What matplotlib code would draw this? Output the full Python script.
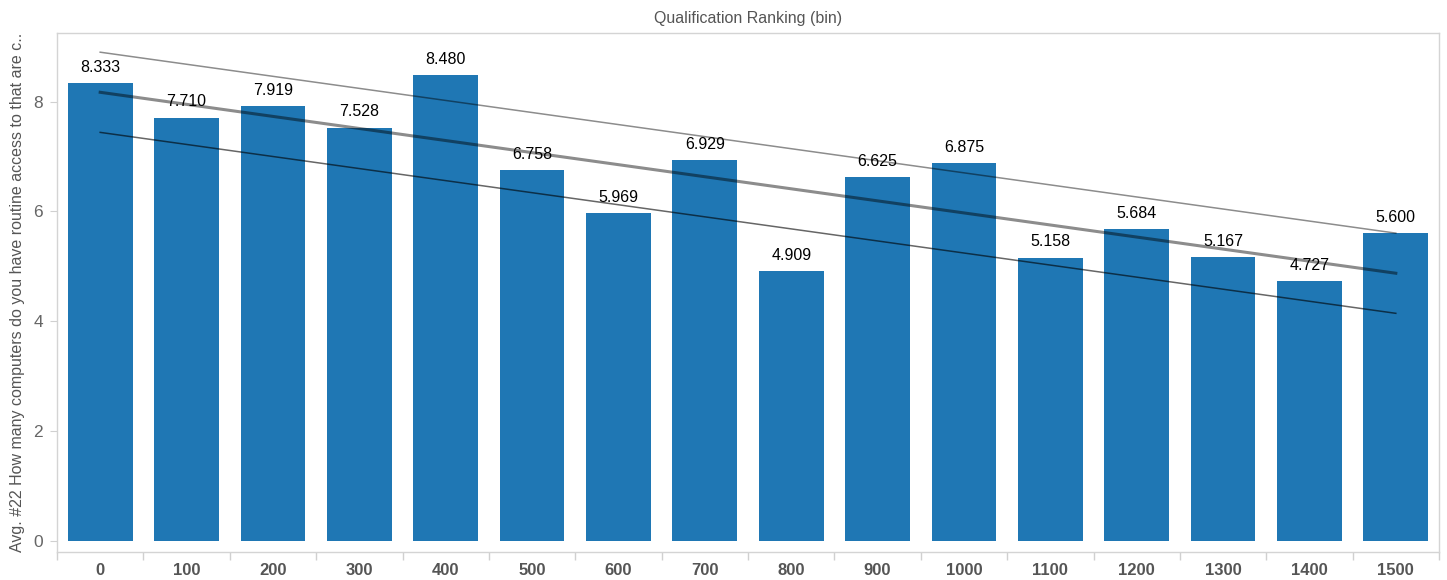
import numpy as np
import matplotlib
matplotlib.use('Agg')
import matplotlib.pyplot as plt

plt.rcParams['font.family'] = ['Liberation Sans', 'DejaVu Sans']

# Data
bins = [0, 100, 200, 300, 400, 500, 600, 700, 800, 900, 1000, 1100, 1200, 1300, 1400, 1500]
avg_computers = [8.333, 7.710, 7.919, 7.528, 8.480, 6.758, 5.969, 6.929,
                 4.909, 6.625, 6.875, 5.158, 5.684, 5.167, 4.727, 5.600]
band_width = 0.73

fig = plt.figure(figsize=(14.47, 5.8), dpi=100)
ax = fig.add_axes([57 / 1447, 28 / 580, (1439 - 57) / 1447, (552 - 33) / 580])

x = np.arange(len(bins))
ax.bar(x, avg_computers, width=0.75, color='#1f77b4', zorder=2)

for xi, v in zip(x, avg_computers):
    ax.annotate(f'{v:.3f}', (xi, v), xytext=(0, 6), textcoords='offset points',
                ha='center', va='bottom', fontsize=11.5, color='black', zorder=4)

# linear trend line with bands
slope, intercept = np.polyfit(x, avg_computers, 1)
fit = slope * x + intercept
ax.plot(x, fit, color='black', alpha=0.45, lw=2.2, zorder=3)
ax.plot(x, fit + band_width, color='black', alpha=0.45, lw=1.1, zorder=3)
ax.plot(x, fit - band_width, color='black', alpha=0.6, lw=1.1, zorder=3)

ax.set_xlim(-0.5, len(bins) - 0.5)
ax.set_ylim(-0.2, 9.25)
ax.set_yticks([0, 2, 4, 6, 8])
ax.set_xticks(x)
ax.set_xticklabels([str(b) for b in bins], fontsize=12, fontweight='bold', color='#555555')
ax.set_xticks(np.arange(-0.5, len(bins)), minor=True)
ax.tick_params(axis='x', which='major', length=0, pad=8)
ax.tick_params(axis='x', which='minor', length=6, color='#d0d0d0', width=1)
ax.tick_params(axis='y', length=5, color='#d0d0d0', labelsize=12.5, labelcolor='#666666', pad=5)

for s in ax.spines.values():
    s.set_color('#d4d4d4')
    s.set_linewidth(1)

ax.set_title('Qualification Ranking (bin)', fontsize=11.5, color='#555555', pad=7)
ax.set_ylabel('Avg. #22 How many computers do you have routine access to that are c..',
              fontsize=11.5, color='#555555', labelpad=6)

fig.savefig('out.png', dpi=100)
plt.close()
